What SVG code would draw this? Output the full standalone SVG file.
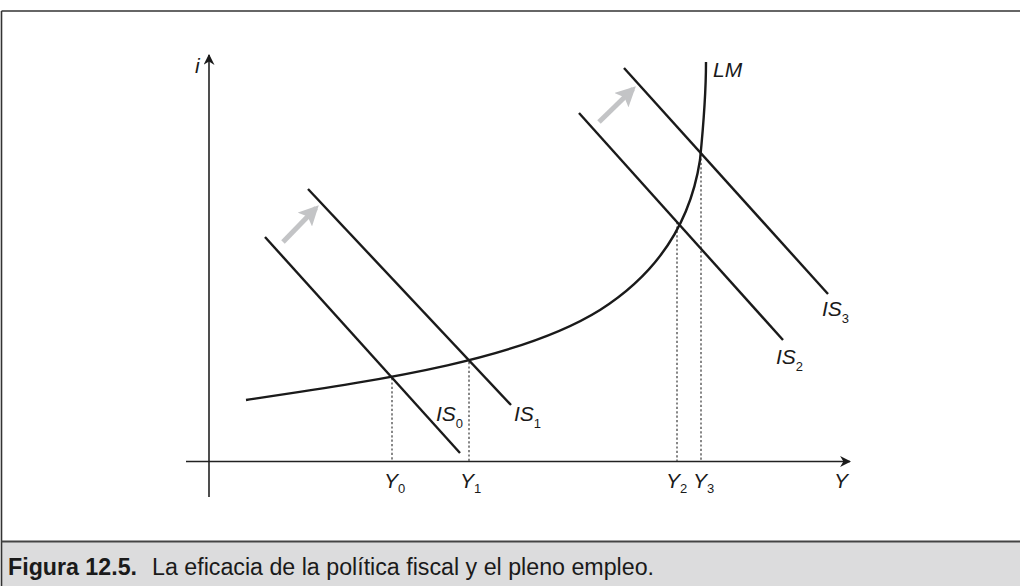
<svg xmlns="http://www.w3.org/2000/svg" width="1020" height="586" viewBox="0 0 1020 586">
<style>
.curve{fill:none;stroke:#1a1a1a;stroke-width:2.4;stroke-linecap:butt}
.dash{fill:none;stroke:#555;stroke-width:1.4;stroke-dasharray:2.2,2.2}
.axis{fill:none;stroke:#222;stroke-width:1.6}
.lbl{font-family:"Liberation Sans",Arial,sans-serif;font-style:italic;font-size:21px;fill:#1a1a1a}
.sub{font-size:13px;font-style:normal}
.shift{fill:none;stroke:#c3c4c6;stroke-width:5}
</style>
<defs>
<marker id="ah" viewBox="0 0 10 10" refX="9" refY="5" markerWidth="11" markerHeight="11" markerUnits="userSpaceOnUse" orient="auto">
<path d="M0,0 L10,5 L0,10 L3,5 Z" fill="#1a1a1a"/>
</marker>
<marker id="gh" viewBox="0 0 10 10" refX="8" refY="5" markerWidth="20" markerHeight="20" markerUnits="userSpaceOnUse" orient="auto">
<path d="M0,0 L10,5 L0,10 L2,5 Z" fill="#c3c4c6"/>
</marker>
</defs>
<rect x="0" y="0" width="1020" height="586" fill="#fff"/>
<g id="frame">
<rect x="1.5" y="541.5" width="1018.5" height="44.5" fill="#dcdcdd"/>
<line x1="1.5" y1="11" x2="1020" y2="11" stroke="#333" stroke-width="1.6"/>
<line x1="1.5" y1="11" x2="1.5" y2="586" stroke="#333" stroke-width="1.6"/>
<line x1="1.5" y1="541.5" x2="1020" y2="541.5" stroke="#444" stroke-width="2"/>
</g>
<g id="caption">
<text x="8" y="575" font-family="'Liberation Sans',Arial,sans-serif" font-weight="bold" font-size="23" fill="#1a1a1a" textLength="129" lengthAdjust="spacingAndGlyphs">Figura 12.5.</text>
<text x="152" y="575" font-family="'Liberation Sans',Arial,sans-serif" font-size="23" fill="#1a1a1a" textLength="502" lengthAdjust="spacingAndGlyphs">La eficacia de la política fiscal y el pleno empleo.</text>
</g>
<g id="axes">
<line class="axis" x1="209" y1="497" x2="209" y2="55" stroke="#555" marker-end="url(#ah)"/>
<line class="axis" x1="186" y1="461.5" x2="850" y2="461.5" marker-end="url(#ah)"/>
<text class="lbl" x="195" y="73">i</text>
<text class="lbl" x="834" y="488">Y</text>
</g>
<g id="connectors">
<line class="dash" x1="392" y1="378" x2="392" y2="461"/>
<line class="dash" x1="469" y1="362" x2="469" y2="461"/>
<line class="dash" x1="677" y1="222" x2="677" y2="461"/>
<line class="dash" x1="701" y1="154" x2="701" y2="461"/>
<line class="shift" x1="283" y1="242" x2="316" y2="208" marker-end="url(#gh)"/>
<line class="shift" x1="599" y1="122" x2="633" y2="89" marker-end="url(#gh)"/>
</g>
<g id="LM">
<path class="curve" d="M246,400 C380,380 520,360 600,310 C655,275 690,225 700,160 C704,120 706,90 706,62"/>
<text class="lbl" x="713" y="77">LM</text>
</g>
<g id="IS0">
<line class="curve" x1="265" y1="237" x2="460" y2="453"/>
<text class="lbl" x="436" y="421">IS<tspan class="sub" dy="7">0</tspan></text>
</g>
<g id="IS1">
<line class="curve" x1="308" y1="189" x2="511" y2="405"/>
<text class="lbl" x="514" y="421">IS<tspan class="sub" dy="7">1</tspan></text>
</g>
<g id="IS2">
<line class="curve" x1="579" y1="113" x2="783" y2="340"/>
<text class="lbl" x="776" y="364">IS<tspan class="sub" dy="7">2</tspan></text>
</g>
<g id="IS3">
<line class="curve" x1="624" y1="68" x2="828" y2="294"/>
<text class="lbl" x="822" y="316">IS<tspan class="sub" dy="7">3</tspan></text>
</g>
<g id="ylabels">
<text class="lbl" x="384" y="488">Y<tspan class="sub" dy="5">0</tspan></text>
<text class="lbl" x="460" y="488">Y<tspan class="sub" dy="5">1</tspan></text>
<text class="lbl" x="666" y="488">Y<tspan class="sub" dy="5">2</tspan></text>
<text class="lbl" x="693" y="488">Y<tspan class="sub" dy="5">3</tspan></text>
</g>
</svg>
